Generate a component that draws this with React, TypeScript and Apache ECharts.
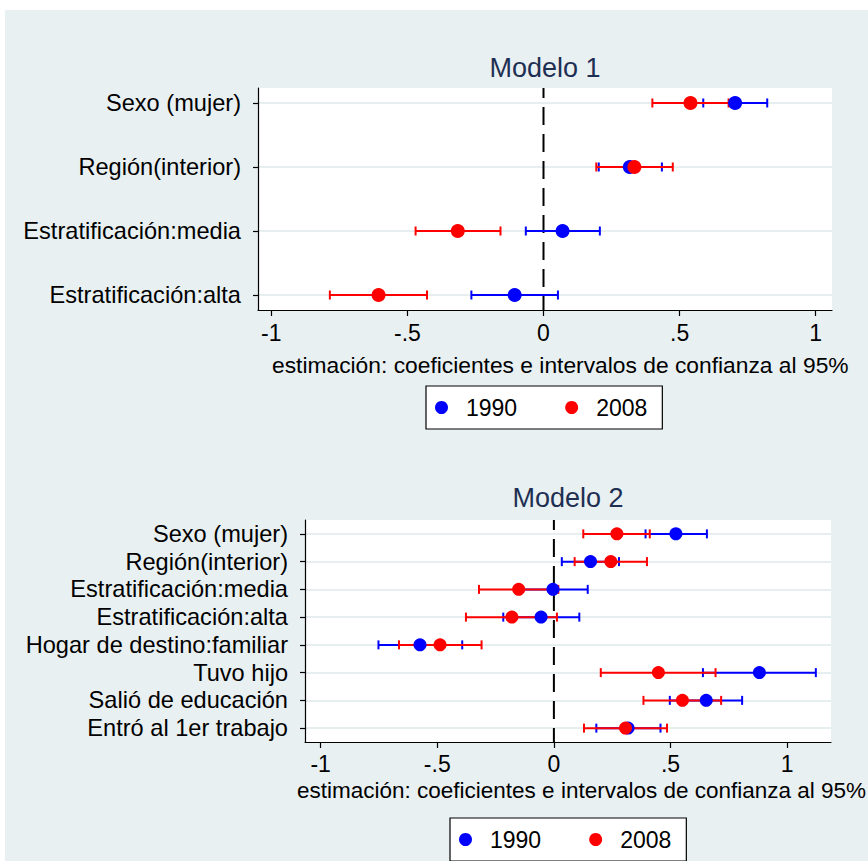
import React, { useEffect, useRef } from "react";
import * as echarts from "echarts";

// ---------- data ----------
const categories1 = ["Sexo (mujer)", "Región(interior)", "Estratificación:media", "Estratificación:alta"];
const m1Coef1990 = [0.704, 0.317, 0.070, -0.106];
const m1Lo1990 = [0.587, 0.203, -0.065, -0.265];
const m1Hi1990 = [0.822, 0.435, 0.207, 0.053];
const m1Coef2008 = [0.540, 0.334, -0.315, -0.606];
const m1Lo2008 = [0.400, 0.194, -0.470, -0.785];
const m1Hi2008 = [0.680, 0.475, -0.158, -0.428];

const categories2 = [
  "Sexo (mujer)",
  "Región(interior)",
  "Estratificación:media",
  "Estratificación:alta",
  "Hogar de destino:familiar",
  "Tuvo hijo",
  "Salió de educación",
  "Entró al 1er trabajo",
];
const m2Coef1990 = [0.523, 0.157, -0.004, -0.055, -0.574, 0.881, 0.653, 0.318];
const m2Lo1990 = [0.393, 0.034, -0.154, -0.217, -0.752, 0.639, 0.497, 0.182];
const m2Hi1990 = [0.656, 0.279, 0.145, 0.109, -0.393, 1.123, 0.807, 0.457];
const m2Coef2008 = [0.270, 0.244, -0.151, -0.180, -0.488, 0.448, 0.551, 0.307];
const m2Lo2008 = [0.126, 0.089, -0.321, -0.377, -0.664, 0.201, 0.384, 0.129];
const m2Hi2008 = [0.411, 0.399, 0.019, 0.013, -0.310, 0.693, 0.717, 0.485];

const xTickValues = [-1, -0.5, 0, 0.5, 1];
const xTickLabels = ["-1", "-.5", "0", ".5", "1"];
const referenceLineX = [0];
const seriesNames = ["1990", "2008"];
const panelTitles = ["Modelo 1", "Modelo 2"];
const axisTitle = "estimación: coeficientes e intervalos de confianza al 95%";

// ---------- styling ----------
const FONT = '"Liberation Sans", Arial, Helvetica, sans-serif';
const BLUE = "#0000ff";
const RED = "#ff0000";
const BG = "#e9f0f2";
const GRIDLINE = "#e6eef0";

function App() {
  const ref = useRef<HTMLDivElement>(null);

  useEffect(() => {
    if (!ref.current) return;
    const chart = echarts.init(ref.current, null, { renderer: "svg" });

    const ypos = (n: number, i: number) => n - i;

    const ciData = (lo: number[], hi: number[], n: number) =>
      lo.map((l, i) => [l, hi[i], ypos(n, i)]);
    const ptData = (coef: number[], n: number) => coef.map((c, i) => [c, ypos(n, i)]);

    const makeZero = (idx: number, yMid: number) => ({
      type: "custom",
      name: "ref",
      xAxisIndex: idx,
      yAxisIndex: idx,
      silent: true,
      clip: false,
      encode: { x: 0, y: 1 },
      data: referenceLineX.map((x) => [x, yMid]),
      renderItem: (params: any, api: any) => {
        const cs = params.coordSys;
        const p = api.coord([api.value(0), api.value(1)]);
        return {
          type: "line",
          shape: { x1: p[0], y1: cs.y + cs.height, x2: p[0], y2: cs.y },
          style: { stroke: "#000", lineWidth: 2, lineDash: [18, 9], lineDashOffset: 4 },
        };
      },
    });

    const makeCI = (name: string, color: string, data: number[][], idx: number, capH: number) => ({
      type: "custom",
      name,
      xAxisIndex: idx,
      yAxisIndex: idx,
      silent: true,
      encode: { x: [0, 1], y: 2 },
      data,
      renderItem: (_params: any, api: any) => {
        const y = api.value(2);
        const p1 = api.coord([api.value(0), y]);
        const p2 = api.coord([api.value(1), y]);
        const h = capH / 2;
        const style = { stroke: color, lineWidth: 2, fill: "none" };
        return {
          type: "group",
          children: [
            { type: "line", shape: { x1: p1[0], y1: p1[1], x2: p2[0], y2: p2[1] }, style },
            { type: "line", shape: { x1: p1[0], y1: p1[1] - h, x2: p1[0], y2: p1[1] + h }, style },
            { type: "line", shape: { x1: p2[0], y1: p2[1] - h, x2: p2[0], y2: p2[1] + h }, style },
          ],
        };
      },
    });

    const makePts = (name: string, color: string, data: number[][], idx: number, size: number) => ({
      type: "scatter",
      name,
      xAxisIndex: idx,
      yAxisIndex: idx,
      symbol: "circle",
      symbolSize: size,
      itemStyle: { color, opacity: 1 },
      silent: true,
      data,
    });

    const n1 = categories1.length;
    const n2 = categories2.length;

    const xAxisCommon = (min: number, max: number, idx: number, margin: number) => ({
      type: "value",
      gridIndex: idx,
      position: "bottom",
      min,
      max,
      axisLine: { show: true, onZero: false, lineStyle: { color: "#000", width: 1.2 } },
      axisTick: { show: true, length: 6, customValues: xTickValues, lineStyle: { color: "#000", width: 1.2 } },
      axisLabel: {
        customValues: xTickValues,
        margin,
        fontSize: 23,
        color: "#000",
        fontFamily: FONT,
        formatter: (v: number) => {
          const k = xTickValues.findIndex((t) => Math.abs(t - v) < 1e-6);
          return k >= 0 ? xTickLabels[k] : "";
        },
      },
      splitLine: { show: false },
      minorSplitLine: { show: false },
    });

    const yAxisCommon = (cats: string[], min: number, max: number, idx: number) => {
      const vals = cats.map((_, i) => ypos(cats.length, i));
      return {
        type: "value",
        gridIndex: idx,
        position: "left",
        min,
        max,
        axisLine: { show: true, onZero: false, lineStyle: { color: "#000", width: 1.2 } },
        axisTick: { show: true, length: 5, customValues: vals, lineStyle: { color: "#000", width: 1.2 } },
        axisLabel: {
          customValues: vals,
          margin: 17,
          fontSize: 23.6,
          color: "#000",
          fontFamily: FONT,
          formatter: (v: number) => {
            const i = cats.length - Math.round(v);
            return cats[i] ?? "";
          },
        },
        splitLine: { show: true, lineStyle: { color: GRIDLINE, width: 2 } },
      };
    };

    const legendCommon = (left: number, top: number) => ({
      data: seriesNames,
      left,
      top,
      orient: "horizontal",
      icon: "circle",
      itemWidth: 13,
      itemHeight: 13,
      itemGap: 48,
      padding: [10, 15, 10, 9],
      borderColor: "#000",
      borderWidth: 1.2,
      backgroundColor: "#fff",
      selectedMode: false,
      textStyle: { fontSize: 23, color: "#000", fontFamily: FONT, padding: [0, 0, 0, 13] },
    });

    const option: any = {
      animation: false,
      backgroundColor: BG,
      graphic: [
        { type: "rect", shape: { x: 0, y: 0, width: 868, height: 10 }, style: { fill: "#fff" }, silent: true },
        { type: "rect", shape: { x: 0, y: 0, width: 5, height: 861 }, style: { fill: "#fff" }, silent: true },
        {
          type: "text",
          x: 545,
          y: 68,
          style: { text: panelTitles[0], font: `27px ${FONT}`, fill: "#1e2f52", textAlign: "center", textVerticalAlign: "middle" },
        },
        {
          type: "text",
          x: 568,
          y: 498,
          style: { text: panelTitles[1], font: `27px ${FONT}`, fill: "#1e2f52", textAlign: "center", textVerticalAlign: "middle" },
        },
        {
          type: "text",
          x: 272,
          y: 365,
          style: { text: axisTitle, font: `22.8px ${FONT}`, fill: "#000", textAlign: "left", textVerticalAlign: "middle" },
        },
        {
          type: "text",
          x: 297,
          y: 790,
          style: { text: axisTitle, font: `22.5px ${FONT}`, fill: "#000", textAlign: "left", textVerticalAlign: "middle" },
        },
      ],
      legend: [legendCommon(426, 386), legendCommon(450, 818)],
      grid: [
        { left: 258, top: 88, width: 574, height: 222, show: true, backgroundColor: "#fff", borderWidth: 0 },
        { left: 305, top: 520, width: 526, height: 222, show: true, backgroundColor: "#fff", borderWidth: 0 },
      ],
      xAxis: [xAxisCommon(-1.049, 1.06, 0, 11), xAxisCommon(-1.067, 1.188, 1, 10)],
      yAxis: [yAxisCommon(categories1, 0.766, 4.234, 0), yAxisCommon(categories2, 0.5, 8.5, 1)],
      series: [
        makeZero(0, 2.5),
        makeCI("1990 IC", BLUE, ciData(m1Lo1990, m1Hi1990, n1), 0, 9),
        makePts(seriesNames[0], BLUE, ptData(m1Coef1990, n1), 0, 14),
        makeCI("2008 IC", RED, ciData(m1Lo2008, m1Hi2008, n1), 0, 9),
        makePts(seriesNames[1], RED, ptData(m1Coef2008, n1), 0, 14),
        makeZero(1, 4.5),
        makeCI("1990 IC", BLUE, ciData(m2Lo1990, m2Hi1990, n2), 1, 9),
        makePts(seriesNames[0], BLUE, ptData(m2Coef1990, n2), 1, 13),
        makeCI("2008 IC", RED, ciData(m2Lo2008, m2Hi2008, n2), 1, 9),
        makePts(seriesNames[1], RED, ptData(m2Coef2008, n2), 1, 13),
      ],
    };

    chart.setOption(option);
    return () => chart.dispose();
  }, []);

  return (
    <div
      ref={ref}
      style={{ position: "absolute", left: 0, top: 0, width: 868, height: 861 }}
    />
  );
}

export default App;
